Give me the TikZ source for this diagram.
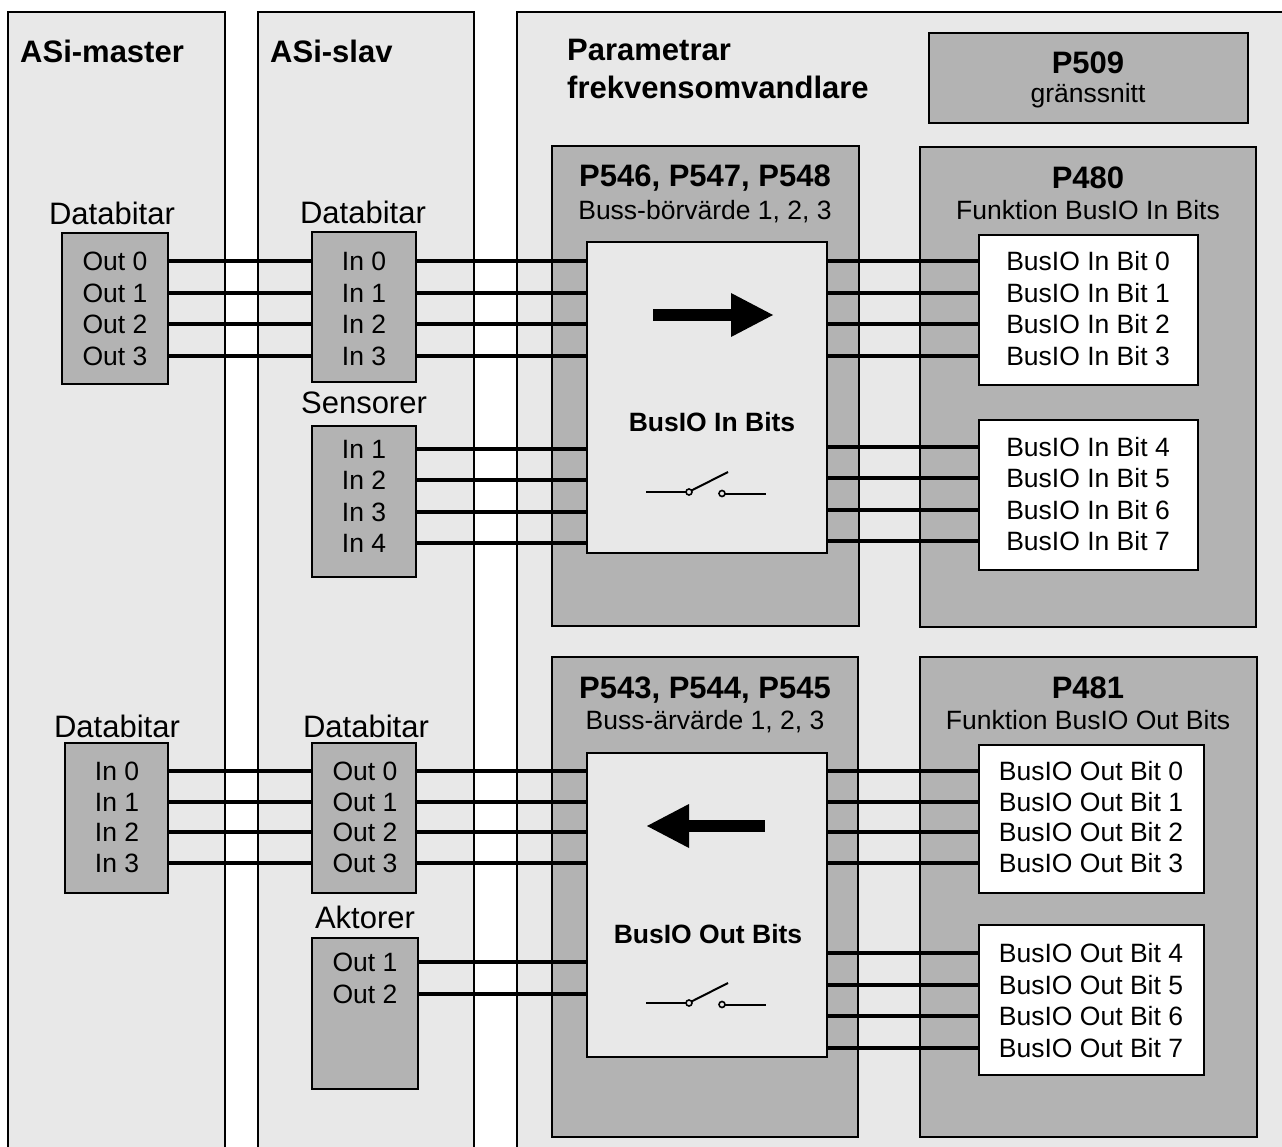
\documentclass[tikz,border=0pt]{standalone}
\usepackage{fontspec}
\setmainfont{Liberation Sans}
\definecolor{panelfill}{RGB}{232,232,232}
\definecolor{boxfill}{RGB}{179,179,179}
\begin{document}
\begin{tikzpicture}[x=1pt,y=-1pt,
  boxframe/.style={draw=black, line width=2pt, inner sep=0pt, outer sep=0pt, anchor=north west},
  graybox/.style={boxframe, fill=boxfill},
  lightbox/.style={boxframe, fill=panelfill},
  whitebox/.style={boxframe, fill=white},
  entry/.style={inner sep=0pt, font=\fontsize{26.5}{30}\selectfont, text height=19pt, text depth=0pt, anchor=center},
  caption/.style={inner sep=0pt, font=\fontsize{26.5}{30}\selectfont, anchor=base},
  grouplabel/.style={inner sep=0pt, font=\fontsize{31}{36}\selectfont, anchor=base},
  headline/.style={inner sep=0pt, font=\bfseries\fontsize{31}{36}\selectfont, anchor=base},
  blockname/.style={inner sep=0pt, font=\bfseries\fontsize{26.5}{30}\selectfont, anchor=center},
  wire/.style={line width=4pt},
  panelline/.style={line width=2pt},
  toggle/.pic={
    \draw[line width=2pt] (-60,0) -- (-20,0);
    \draw[line width=2pt] (-14.5,-1.5) -- (22,-20);
    \draw[line width=1.6pt, fill=panelfill] (-17,0) circle[radius=3pt];
    \draw[line width=1.6pt, fill=panelfill] (16,1.5) circle[radius=3pt];
    \draw[line width=2pt] (19,1.5) -- (60,1.5);
  }
]
\useasboundingbox (0,0) rectangle (1282,1147);
\clip (0,0) rectangle (1282,1147);

% three column panels, open at the bottom
\fill[panelfill] (8,12) rectangle (225,1160);
\draw[panelline] (8,1160) -- (8,12) -- (225,12) -- (225,1160);
\fill[panelfill] (258,12) rectangle (474,1160);
\draw[panelline] (258,1160) -- (258,12) -- (474,12) -- (474,1160);
\fill[panelfill] (517,12) rectangle (1300,1160);
\draw[panelline] (517,1160) -- (517,12) -- (1300,12);

\node[headline, anchor=base west] (tMaster) at (20,63) {ASi-master};
\node[headline, anchor=base west] (tSlave) at (270,63) {ASi-slav};
\node[headline, anchor=base west] (tPar1) at (567,61) {Parametrar};
\node[headline, anchor=base west] (tPar2) at (567,99) {frekvensomvandlare};

% interface parameter
\node[graybox, minimum width=319pt, minimum height=90pt] (p509) at (929,33) {};
\node[headline] (p509a) at (1088,74) {P509};
\node[caption] (p509b) at (1088,103) {gränssnitt};

% ---------- input direction ----------
\node[graybox, minimum width=307pt, minimum height=480pt] (pIn) at (552,146) {};
\node[headline] (pInA) at (705,187) {P546, P547, P548};
\node[caption] (pInB) at (705,220) {Buss-börvärde 1, 2, 3};
\node[lightbox, minimum width=240pt, minimum height=311pt] (inBits) at (587,242) {};
\node[blockname] (inName) at (712,422) {BusIO In Bits};
\fill (653,309) rectangle (733,321);
\fill (731,293) -- (773,315) -- (731,337) -- cycle;
\pic at (706,492) {toggle};

\node[graybox, minimum width=336pt, minimum height=480pt] (p480) at (920,147) {};
\node[headline] (p480a) at (1088,189) {P480};
\node[caption] (p480b) at (1088,220) {Funktion BusIO In Bits};
\node[whitebox, minimum width=219pt, minimum height=150pt] (inW1) at (979,235) {};
\node[whitebox, minimum width=219pt, minimum height=150pt] (inW2) at (979,420) {};

\node[grouplabel] (dbM1) at (112,225) {Databitar};
\node[graybox, minimum width=106pt, minimum height=151pt] (mTop) at (62,233) {};
\node[grouplabel] (dbS1) at (363,224) {Databitar};
\node[graybox, minimum width=104pt, minimum height=150pt] (sTop) at (312,232) {};
\node[grouplabel] (sensT) at (364,413) {Sensorer};
\node[graybox, minimum width=104pt, minimum height=151pt] (sens) at (312,426) {};

\foreach \i in {0,...,3} {
  \node[entry] (mo\i) at (115,{261+31.67*\i}) {Out \i};
  \node[entry] (si\i) at (364,{261+31.67*\i}) {In \i};
  \node[entry] (bi\i) at (1088,{261+31.67*\i}) {BusIO In Bit \i};
}
\foreach \i/\n in {0/1,1/2,2/3,3/4} {
  \node[entry] (se\i) at (364,{449+31.4*\i}) {In \n};
}
\foreach \i/\n in {0/4,1/5,2/6,3/7} {
  \node[entry] (bj\i) at (1088,{447+31.4*\i}) {BusIO In Bit \n};
}
\foreach \i in {0,...,3} {
  \draw[wire] (mTop.east |- mo\i) -- (sTop.west |- mo\i);
  \draw[wire] (sTop.east |- si\i) -- (inBits.west |- si\i);
  \draw[wire] (sens.east |- se\i) -- (inBits.west |- se\i);
  \draw[wire] (inBits.east |- bi\i) -- (inW1.west |- bi\i);
  \draw[wire] (inBits.east |- bj\i) -- (inW2.west |- bj\i);
}

% ---------- output direction ----------
\node[graybox, minimum width=306pt, minimum height=480pt] (pOut) at (552,657) {};
\node[headline] (pOutA) at (705,698) {P543, P544, P545};
\node[caption] (pOutB) at (705,729) {Buss-ärvärde 1, 2, 3};
\node[lightbox, minimum width=240pt, minimum height=304pt] (outBits) at (587,753) {};
\node[blockname] (outName) at (708,934) {BusIO Out Bits};
\fill (687,820) rectangle (765,832);
\fill (689,804) -- (647,826) -- (689,848) -- cycle;
\pic at (706,1003) {toggle};

\node[graybox, minimum width=337pt, minimum height=480pt] (p481) at (920,657) {};
\node[headline] (p481a) at (1088,698) {P481};
\node[caption] (p481b) at (1088,729) {Funktion BusIO Out Bits};
\node[whitebox, minimum width=225pt, minimum height=148pt] (outW1) at (979,745) {};
\node[whitebox, minimum width=225pt, minimum height=150pt] (outW2) at (979,925) {};

\node[grouplabel] (dbM2) at (117,737) {Databitar};
\node[graybox, minimum width=103pt, minimum height=150pt] (mBot) at (65,743) {};
\node[grouplabel] (dbS2) at (366,737) {Databitar};
\node[graybox, minimum width=104pt, minimum height=150pt] (sBot) at (312,743) {};
\node[grouplabel] (aktT) at (365,928) {Aktorer};
\node[graybox, minimum width=106pt, minimum height=151pt] (akt) at (312,938) {};

\foreach \i in {0,...,3} {
  \node[entry] (mi\i) at (117,{771+30.7*\i}) {In \i};
  \node[entry] (so\i) at (365,{771+30.7*\i}) {Out \i};
  \node[entry] (bo\i) at (1091,{771+30.7*\i}) {BusIO Out Bit \i};
}
\foreach \i/\n in {0/1,1/2} {
  \node[entry] (ak\i) at (365,{962+32*\i}) {Out \n};
}
\foreach \i/\n in {0/4,1/5,2/6,3/7} {
  \node[entry] (bp\i) at (1091,{953+31.7*\i}) {BusIO Out Bit \n};
}
\foreach \i in {0,...,3} {
  \draw[wire] (mBot.east |- mi\i) -- (sBot.west |- mi\i);
  \draw[wire] (sBot.east |- so\i) -- (outBits.west |- so\i);
  \draw[wire] (outBits.east |- bo\i) -- (outW1.west |- bo\i);
  \draw[wire] (outBits.east |- bp\i) -- (outW2.west |- bp\i);
}
\foreach \i in {0,1} {
  \draw[wire] (akt.east |- ak\i) -- (outBits.west |- ak\i);
}
\end{tikzpicture}
\end{document}
